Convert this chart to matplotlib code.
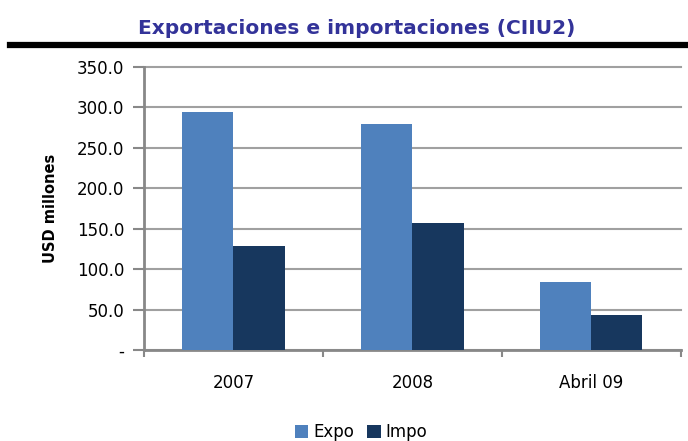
import matplotlib
matplotlib.use('Agg')
import matplotlib.pyplot as plt
from matplotlib.lines import Line2D
import numpy as np

# datos
categorias = ["2007", "2008", "Abril 09"]
expo = [294.5, 280.0, 84.5]
impo = [128.5, 156.5, 42.8]
y_ticks = [0, 50, 100, 150, 200, 250, 300, 350]
y_tick_labels = ["-", "50.0", "100.0", "150.0", "200.0", "250.0", "300.0", "350.0"]

plt.rcParams['font.family'] = ['DejaVu Sans']

fig = plt.figure(figsize=(6.88, 4.41), dpi=100)
ax = fig.add_axes([0.2093, 0.2063, 0.7805, 0.6417])

x = np.arange(len(categorias))
w = 0.285
ax.bar(x - w / 2, expo, w, color='#4F81BD', label='Expo', zorder=3)
ax.bar(x + w / 2, impo, w, color='#17375E', label='Impo', zorder=3)

ax.set_xlim(-0.5, 2.5)
ax.set_ylim(0, 350)
ax.set_yticks(y_ticks)
ax.set_yticklabels(y_tick_labels, fontsize=12)
ax.set_xticks(x)
ax.set_xticklabels(categorias, fontsize=12)
ax.set_xticks([-0.5, 0.5, 1.5, 2.5], minor=True)
ax.tick_params(axis='x', which='major', length=0, pad=17)
ax.tick_params(axis='x', which='minor', length=5, width=1.5, color='#888888')
ax.tick_params(axis='y', length=8, width=1.5, color='#888888', pad=6)

ax.grid(axis='y', color='#A0A0A0', linewidth=1.5, zorder=0)
for line in ax.get_ygridlines():
    line.set_clip_on(False)
for s in ['top', 'right']:
    ax.spines[s].set_visible(False)
for s in ['left', 'bottom']:
    ax.spines[s].set_color('#888888')
    ax.spines[s].set_linewidth(2)

ax.set_ylabel('USD millones', fontsize=10.5, fontweight='bold', labelpad=14)

fig.text(0.518, 0.935, 'Exportaciones e importaciones (CIIU2)', ha='center', va='center',
         fontsize=14.5, fontweight='bold', color='#333399')
fig.add_artist(Line2D([0.015, 1.0], [0.899, 0.899], color='black', linewidth=4.5))

fig.legend(loc='lower center', bbox_to_anchor=(0.525, -0.035), ncol=2, frameon=False,
           fontsize=12, handlelength=0.8, handleheight=0.8, handletextpad=0.3, columnspacing=0.8)

fig.savefig('out.png', dpi=100)
